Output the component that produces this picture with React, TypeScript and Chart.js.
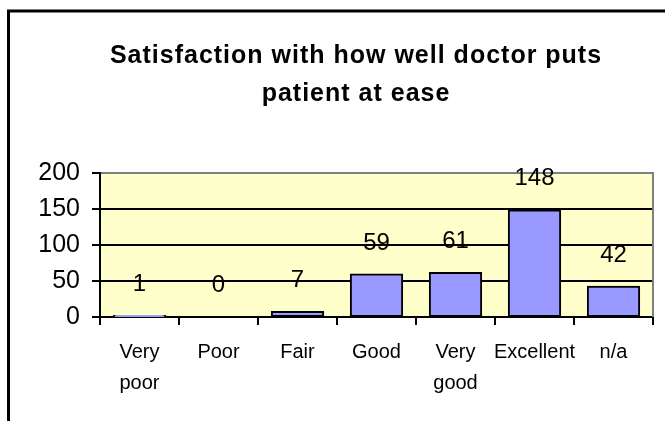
import { useEffect, useRef } from 'react';
import { Chart, registerables } from 'chart.js';

Chart.register(...registerables);

const titleLines = ['Satisfaction with how well doctor puts', 'patient at ease'];
const categories: (string | string[])[] = [['Very', 'poor'], 'Poor', 'Fair', 'Good', ['Very', 'good'], 'Excellent', 'n/a'];
const counts = [1, 0, 7, 59, 61, 148, 42];
const yMin = 0;
const yMax = 200;
const yStep = 50;

const FONT = "'Liberation Sans', Arial, sans-serif";

export default function App() {
  const ref = useRef<HTMLCanvasElement>(null);

  useEffect(() => {
    const canvas = ref.current!;
    const decor = {
      id: 'decor',
      beforeDraw(chart: any) {
        const { ctx, chartArea: a } = chart;
        ctx.save();
        ctx.strokeStyle = '#000';
        ctx.lineWidth = 3;
        ctx.beginPath();
        ctx.moveTo(8.5, 440);
        ctx.lineTo(8.5, 11);
        ctx.lineTo(700, 11);
        ctx.stroke();
        ctx.fillStyle = '#FFFFCC';
        ctx.fillRect(a.left, a.top, a.right - a.left, a.bottom - a.top);
        ctx.restore();
      },
      beforeDatasetsDraw(chart: any) {
        const { ctx, chartArea: a } = chart;
        ctx.save();
        ctx.strokeStyle = '#808080';
        ctx.lineWidth = 2;
        ctx.beginPath();
        ctx.moveTo(a.right, a.top - 1);
        ctx.lineTo(a.right, a.bottom);
        ctx.stroke();
        ctx.restore();
      },
      afterDatasetsDraw(chart: any) {
        const { ctx } = chart;
        ctx.save();
        ctx.fillStyle = '#000';
        ctx.font = `24px ${FONT}`;
        ctx.textAlign = 'center';
        ctx.textBaseline = 'alphabetic';
        chart.getDatasetMeta(0).data.forEach((bar: any, i: number) => {
          ctx.fillText(String(counts[i]), bar.x, bar.y - 25);
        });
        ctx.restore();
      },
      afterDraw(chart: any) {
        const { ctx } = chart;
        ctx.save();
        ctx.fillStyle = '#000';
        ctx.font = `bold 25px ${FONT}`;
        (ctx as any).letterSpacing = '1px';
        ctx.textAlign = 'center';
        ctx.textBaseline = 'alphabetic';
        titleLines.forEach((line, i) => {
          ctx.fillText(line, 356, 63 + i * 38);
        });
        (ctx as any).letterSpacing = '0px';
        ctx.restore();
      },
    };

    const chart = new Chart(canvas, {
      type: 'bar',
      data: {
        labels: categories,
        datasets: [
          {
            data: counts,
            backgroundColor: '#9999FF',
            borderColor: '#000000',
            borderWidth: 2,
            borderSkipped: false,
            inflateAmount: 1,
            barPercentage: 0.65,
            categoryPercentage: 1,
          } as any,
        ],
      },
      options: {
        responsive: false,
        animation: false,
        layout: { padding: { left: 0, right: 12, top: 173, bottom: 0 } },
        plugins: {
          legend: { display: false },
          title: { display: false },
          tooltip: { enabled: false },
        },
        scales: {
          x: {
            offset: true,
            afterFit(scale: any) {
              scale.height = 104;
            },
            grid: {
              display: true,
              offset: true,
              drawOnChartArea: false,
              drawTicks: true,
              tickLength: 8,
              color: '#000',
              tickColor: '#000',
              lineWidth: 2,
            },
            border: { display: true, color: '#000', width: 2 },
            ticks: {
              color: '#000',
              padding: 12,
              maxRotation: 0,
              autoSkip: false,
              font: { family: FONT, size: 20, lineHeight: 1.55 },
            },
          },
          y: {
            min: yMin,
            max: yMax,
            afterFit(scale: any) {
              scale.width = 100;
            },
            grid: {
              color: (c: any) => (c.tick && c.tick.value === yMax ? '#808080' : '#000'),
              tickColor: '#000',
              lineWidth: 2,
              tickLength: 8,
            },
            border: { display: true, color: '#000', width: 2 },
            ticks: {
              stepSize: yStep,
              color: '#000',
              padding: 12,
              font: { family: FONT, size: 25 },
            },
          },
        },
      },
      plugins: [decor],
    });
    return () => chart.destroy();
  }, []);

  return (
    <div style={{ position: 'fixed', left: 0, top: 0, width: 665, height: 421, background: '#fff' }}>
      <canvas ref={ref} width={665} height={421} />
    </div>
  );
}
